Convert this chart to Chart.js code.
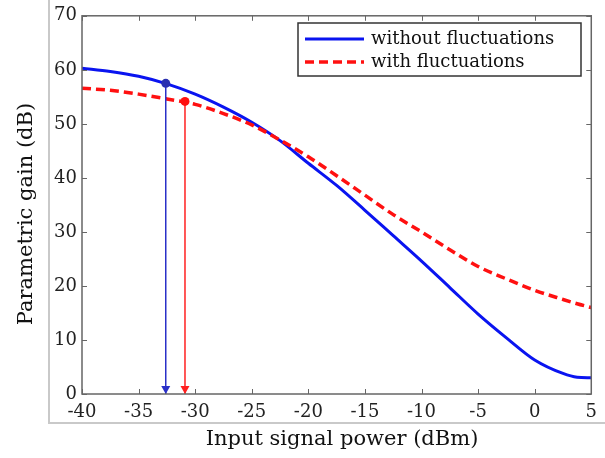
<!DOCTYPE html>
<html>
<head>
<meta charset="utf-8">
<script src="https://cdn.jsdelivr.net/npm/chart.js@4.4.1/dist/chart.umd.min.js"></script>
<style>
  html, body { margin: 0; padding: 0; background: #fff; }
  #wrap { width: 605px; height: 458px; }
</style>
</head>
<body>
<div id="wrap"><canvas id="gainChart" width="605" height="458"></canvas></div>
<script>
// input power (dBm) and gain (dB)
const power = [-40, -37.5, -35, -32.5, -30, -27.5, -25, -22.5, -20, -17.5, -15, -12.5, -10, -7.5, -5, -2.5, 0, 2.5, 3.75, 5];
const gainNoFluct = [60.3, 59.7, 58.8, 57.4, 55.5, 53.1, 50.3, 46.9, 42.7, 38.6, 34.0, 29.3, 24.6, 19.7, 14.8, 10.4, 6.3, 3.8, 3.1, 3.0];
const gainFluct = [56.6, 56.2, 55.5, 54.6, 53.6, 51.9, 49.8, 47.0, 43.9, 40.4, 36.8, 33.2, 30.0, 26.7, 23.6, 21.3, 19.2, 17.5, 16.7, 16.0];

// marked operating points (dBm, dB)
const markNoFluct = [-32.6, 57.5];
const markFluct = [-30.9, 54.15];

const xTicks = [-40, -35, -30, -25, -20, -15, -10, -5, 0, 5];
const yTicks = [0, 10, 20, 30, 40, 50, 60, 70];

const xTitle = 'Input signal power (dBm)';
const yTitle = 'Parametric gain (dB)';

const blue = '#0a14f0';
const red = '#ff1010';
const serif = "'DejaVu Serif', 'Liberation Serif', serif";

const toPts = (xs, ys) => xs.map((x, i) => ({ x: x, y: ys[i] }));

// frame, axis titles, inward ticks, arrow heads and boxed legend
const decor = {
  id: 'decor',
  beforeDraw(chart) {
    const c = chart.ctx;
    c.save();
    c.strokeStyle = '#c9c9c9';
    c.lineWidth = 2;
    c.beginPath();
    c.moveTo(49, 0);
    c.lineTo(49, 423);
    c.lineTo(605, 423);
    c.stroke();

    c.fillStyle = '#111';
    c.font = '21px ' + serif;
    c.textAlign = 'center';
    c.textBaseline = 'middle';
    c.fillText(xTitle, 342, 440);
    c.translate(27, 214);
    c.rotate(-Math.PI / 2);
    c.fillText(yTitle, 0, 0);
    c.restore();
  },
  afterDatasetsDraw(chart) {
    const c = chart.ctx;
    const a = chart.chartArea;
    const xs = chart.scales.x, ys = chart.scales.y;
    c.save();
    // arrow heads at the bottom of the drop lines
    [2, 3].forEach(i => {
      const ds = chart.data.datasets[i];
      const p = ds.data[1];
      const px = xs.getPixelForValue(p.x), py = ys.getPixelForValue(p.y);
      c.fillStyle = ds.borderColor;
      c.beginPath();
      c.moveTo(px, py);
      c.lineTo(px - 4.5, py - 8);
      c.lineTo(px + 4.5, py - 8);
      c.closePath();
      c.fill();
    });
    // axes box
    c.strokeStyle = '#666';
    c.lineWidth = 1.5;
    c.strokeRect(a.left, a.top, a.right - a.left, a.bottom - a.top);
    c.lineWidth = 1;
    c.beginPath();
    xTicks.forEach(v => {
      const px = Math.round(xs.getPixelForValue(v)) + 0.5;
      c.moveTo(px, a.bottom); c.lineTo(px, a.bottom - 5);
      c.moveTo(px, a.top); c.lineTo(px, a.top + 5);
    });
    yTicks.forEach(v => {
      const py = Math.round(ys.getPixelForValue(v)) + 0.5;
      c.moveTo(a.left, py); c.lineTo(a.left + 5, py);
      c.moveTo(a.right, py); c.lineTo(a.right - 5, py);
    });
    c.stroke();

    // legend box
    const bx = 298, by = 23, bw = 283, bh = 53;
    c.fillStyle = '#fff';
    c.fillRect(bx, by, bw, bh);
    c.strokeStyle = '#333';
    c.lineWidth = 1.5;
    c.strokeRect(bx, by, bw, bh);
    c.font = '18px ' + serif;
    c.textBaseline = 'middle';
    c.fillStyle = '#111';
    [0, 1].forEach(i => {
      const ds = chart.data.datasets[i];
      const ly = by + 16 + i * 23;
      c.strokeStyle = ds.borderColor;
      c.lineWidth = ds.borderWidth;
      c.setLineDash(ds.borderDash || []);
      c.beginPath();
      c.moveTo(bx + 7, ly);
      c.lineTo(bx + 66, ly);
      c.stroke();
      c.setLineDash([]);
      c.fillText(ds.label, bx + 73, ly);
    });
    c.restore();
  }
};

new Chart(document.getElementById('gainChart'), {
  type: 'line',
  data: {
    datasets: [
      {
        label: 'without fluctuations',
        data: toPts(power, gainNoFluct),
        borderColor: blue,
        borderWidth: 3,
        pointRadius: 0,
        cubicInterpolationMode: 'monotone',
        order: 2
      },
      {
        label: 'with fluctuations',
        data: toPts(power, gainFluct),
        borderColor: red,
        borderWidth: 3.5,
        borderDash: [9, 5],
        pointRadius: 0,
        cubicInterpolationMode: 'monotone',
        order: 1
      },
      {
        label: 'drop no fluct',
        data: [{ x: markNoFluct[0], y: markNoFluct[1] }, { x: markNoFluct[0], y: 0 }],
        borderColor: '#2a30c8',
        backgroundColor: '#2a30b0',
        borderWidth: 1.5,
        pointRadius: [4.5, 0],
        pointBorderWidth: 0,
        order: 0
      },
      {
        label: 'drop fluct',
        data: [{ x: markFluct[0], y: markFluct[1] }, { x: markFluct[0], y: 0 }],
        borderColor: '#ff2020',
        backgroundColor: '#ff1010',
        borderWidth: 1.5,
        pointRadius: [4.5, 0],
        pointBorderWidth: 0,
        order: 0
      }
    ]
  },
  options: {
    responsive: false,
    animation: false,
    layout: { padding: { left: 0, right: 13, top: 14, bottom: 0 } },
    plugins: {
      legend: { display: false },
      tooltip: { enabled: false }
    },
    scales: {
      x: {
        type: 'linear',
        min: -40,
        max: 5,
        afterFit: s => { s.height = 64; },
        afterBuildTicks: s => { s.ticks = xTicks.map(v => ({ value: v })); },
        grid: { display: false, drawTicks: false },
        border: { display: false },
        ticks: {
          color: '#222',
          padding: 8,
          maxRotation: 0,
          font: { family: serif, size: 18 }
        }
      },
      y: {
        min: 0,
        max: 70,
        afterFit: s => { s.width = 82; },
        afterBuildTicks: s => { s.ticks = yTicks.map(v => ({ value: v })); },
        grid: { display: false, drawTicks: false },
        border: { display: false },
        ticks: {
          color: '#222',
          padding: 5,
          font: { family: serif, size: 18 }
        }
      }
    }
  },
  plugins: [decor]
});
</script>
</body>
</html>
